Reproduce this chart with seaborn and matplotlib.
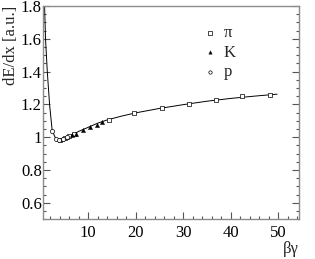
import matplotlib
matplotlib.use("Agg")
import matplotlib.pyplot as plt
import seaborn as sns
import pandas as pd
from matplotlib.ticker import MultipleLocator, FuncFormatter

sns.set_style("white")
plt.rcParams['font.family'] = ['Liberation Serif', 'DejaVu Serif']

# fitted curve
curve_bg = [0.8, 1.0, 1.37, 1.85, 2.4, 3.0, 3.5, 4.0, 5.0, 6.0, 8.0, 10.0, 12.0, 14.0,
            17.0, 20.0, 25.0, 30.0, 35.0, 40.0, 45.0, 49.8]
curve_de = [1.80, 1.60, 1.40, 1.20, 1.04, 1.00, 0.985, 0.982, 0.99, 1.005, 1.035, 1.06,
            1.085, 1.105, 1.128, 1.148, 1.175, 1.198, 1.219, 1.236, 1.25, 1.262]

# pions
pi_bg = [4.0, 5.0, 6.0, 7.0, 14.3, 19.7, 25.6, 31.3, 36.9, 42.5, 48.2]
pi_de = [0.985, 0.995, 1.005, 1.02, 1.105, 1.145, 1.176, 1.203, 1.228, 1.248, 1.258]
# kaons
k_bg = [4.5, 5.5, 6.5, 7.5, 9.0, 10.4, 11.8, 13.0]
k_de = [0.988, 0.998, 1.01, 1.022, 1.045, 1.062, 1.076, 1.09]
# protons
p_bg = [2.4, 3.3, 3.9, 4.6, 5.5]
p_de = [1.035, 0.99, 0.984, 0.99, 1.0]

labels = ["π", "K", "p"]

fig = plt.figure(figsize=(3.15, 2.59), dpi=100)
ax = fig.add_axes([0.137, 0.154, 0.812, 0.823])

sns.lineplot(x=curve_bg, y=curve_de, ax=ax, color="black", linewidth=0.7, sort=False)

sns.scatterplot(x=pi_bg, y=pi_de, ax=ax, marker="s", s=9, facecolor="white",
                edgecolor="black", linewidth=0.5, label=labels[0], zorder=3)
sns.scatterplot(x=k_bg, y=k_de, ax=ax, marker="^", s=9, color="black",
                edgecolor="black", linewidth=0.3, label=labels[1], zorder=3)
sns.scatterplot(x=p_bg, y=p_de, ax=ax, marker="o", s=9, facecolor="white",
                edgecolor="black", linewidth=0.5, label=labels[2], zorder=3)

ax.set_xlim(0.5, 54.4)
ax.set_ylim(0.5, 1.8)

ax.xaxis.set_major_locator(MultipleLocator(10))
ax.xaxis.set_minor_locator(MultipleLocator(2))
ax.yaxis.set_major_locator(MultipleLocator(0.2))
ax.yaxis.set_minor_locator(MultipleLocator(0.05))
ax.yaxis.set_major_formatter(FuncFormatter(lambda v, p: f"{v:g}"))

spine_col = "#8c8c8c"
for s in ax.spines.values():
    s.set_color(spine_col)
    s.set_linewidth(1.0)

ax.tick_params(axis="both", which="both", direction="in", colors="#555555",
               labelcolor="black", labelsize=12, right=True, top=False, left=True, bottom=True)
ax.tick_params(axis="both", which="major", length=5, width=0.8)
ax.tick_params(axis="both", which="minor", length=2.5, width=0.8)
ax.tick_params(axis="x", pad=4)
ax.tick_params(axis="y", pad=1)

ax.set_ylabel("dE/dx [a.u.]", fontsize=12, loc="top", labelpad=1)
ax.set_xlabel("βγ", fontsize=12, loc="right", labelpad=0)

leg = ax.legend(loc="upper left", bbox_to_anchor=(0.595, 0.94), frameon=False,
                fontsize=12, handletextpad=0.3, labelspacing=0.2, borderaxespad=0,
                handlelength=1.0, markerscale=0.8)

fig.savefig("out.png", dpi=100)
